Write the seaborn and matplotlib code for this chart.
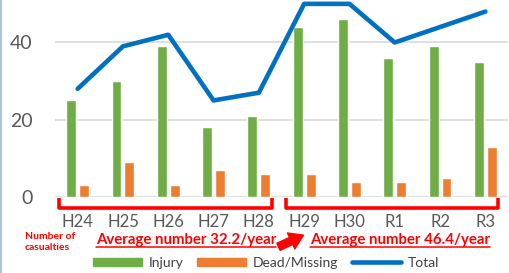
import matplotlib
matplotlib.use("Agg")
import matplotlib.pyplot as plt
import matplotlib.transforms as mtransforms
from matplotlib.lines import Line2D
from matplotlib.patches import Patch, FancyArrowPatch
import numpy as np
import pandas as pd
import seaborn as sns

# ── data ─────────────────────────────────────────────────────────────────────
YEARS = ["H24", "H25", "H26", "H27", "H28", "H29", "H30", "R1", "R2", "R3"]
INJURY = [25, 30, 39, 18, 21, 44, 46, 36, 39, 35]
DEAD = [3, 9, 3, 7, 6, 6, 4, 4, 5, 13]
TOTAL = [28, 39, 42, 25, 27, 50, 50, 40, 44, 48]
SERIES = ["Injury", "Dead/Missing", "Total"]
PERIOD_SPANS = [(0, 4), (5, 9)]
PERIOD_LABELS = ["Average number 32.2/year", "Average number 46.4/year"]

GREEN, ORANGE, BLUE, RED = "#70AD47", "#ED7D31", "#0070C0", "#FF0000"
GRAY_TXT = "#595959"

sns.set_theme(style="white")
plt.rcParams["font.family"] = ["Lato", "DejaVu Sans"]

W, H = 510, 273
fig = plt.figure(figsize=(W / 100, H / 100), dpi=100)
ax = fig.add_axes([55 / W, 76 / H, 453 / W, 197 / H])

df = pd.DataFrame({
    "year": YEARS * 2,
    "count": INJURY + DEAD,
    "series": [SERIES[0]] * len(YEARS) + [SERIES[1]] * len(YEARS),
})
sns.barplot(data=df, x="year", y="count", hue="series", palette=[GREEN, ORANGE],
            width=0.57, gap=0.23, saturation=1, legend=False, ax=ax)
sns.lineplot(x=np.arange(len(YEARS)), y=TOTAL, color=BLUE, linewidth=3.3,
             solid_capstyle="round", ax=ax, zorder=4)

ax.set_xlim(-0.5, len(YEARS) - 0.5)
ax.set_ylim(0, 51)
ax.set_yticks([0, 20, 40])
ax.yaxis.grid(True, color="#D9D9D9", linewidth=1.2)
ax.set_axisbelow(True)
for s in ax.spines.values():
    s.set_visible(False)
ax.set_xlabel("")
ax.set_ylabel("")
ax.tick_params(axis="y", length=0, pad=16, labelsize=14, labelcolor=GRAY_TXT)
ax.tick_params(axis="x", length=0, pad=12, labelsize=12, labelcolor=GRAY_TXT)

# ── period brackets ──────────────────────────────────────────────────────────
blend = mtransforms.blended_transform_factory(ax.transData, ax.transAxes)
for a, b in PERIOD_SPANS:
    x0, x1 = a - 0.41, b + 0.29
    ax.add_line(Line2D([x0, x0, x1, x1], [-0.005, -0.058, -0.058, -0.005],
                       transform=blend, color=RED, linewidth=2.6,
                       solid_joinstyle="round", solid_capstyle="butt",
                       clip_on=False))

fig.text(25 / W, 1 - 242 / H, "Number of\ncasualties", ha="left", va="center",
         fontsize=7.5, fontweight="bold", color=RED, linespacing=1.25)

texts = []
for cx, label in zip([186, 400], PERIOD_LABELS):
    texts.append(fig.text(cx / W, 1 - 240 / H, label, ha="center", va="center",
                          fontsize=10.8, fontweight="bold", color=RED))

fig.add_artist(FancyArrowPatch((276 / W, 1 - 248 / H), (306 / W, 1 - 234 / H),
                               transform=fig.transFigure, color=RED,
                               arrowstyle="simple,head_width=0.9,head_length=0.7,tail_width=0.4",
                               mutation_scale=14))

# left frame edge
fig.add_artist(Line2D([0.002, 0.002], [0, 1], transform=fig.transFigure,
                      color="#9DB4D8", linewidth=1.2))

# ── legend ───────────────────────────────────────────────────────────────────
handles = [Patch(color=GREEN), Patch(color=ORANGE),
           Line2D([], [], color=BLUE, linewidth=3.3)]
fig.legend(handles, SERIES, loc="center", bbox_to_anchor=(266 / W, 1 - 263 / H),
           ncol=3, frameon=False, fontsize=10, handlelength=3.5, handleheight=0.55,
           columnspacing=1.0, handletextpad=0.5, labelcolor="#404040")

# underline the averages
fig.canvas.draw()
for t in texts:
    bb = t.get_window_extent()
    fig.add_artist(Line2D([bb.x0, bb.x1], [bb.y0 + 0.5, bb.y0 + 0.5],
                          transform=mtransforms.IdentityTransform(),
                          color=RED, linewidth=1.1))

fig.savefig("out.png", dpi=100)
